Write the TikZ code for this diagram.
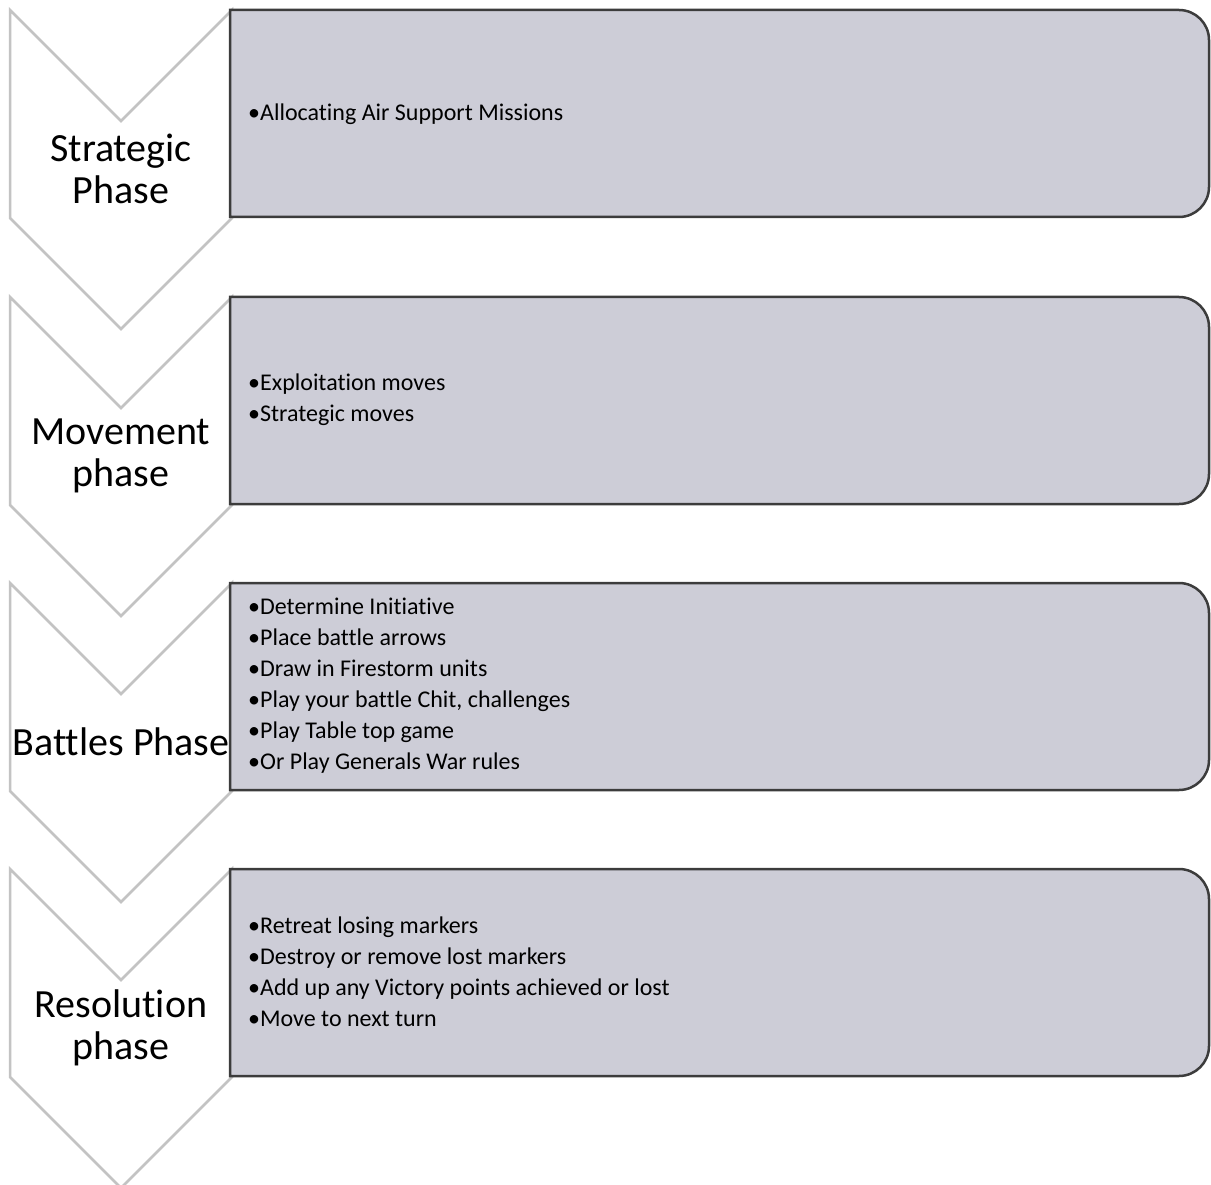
\documentclass[tikz,border=0pt]{standalone}
\usepackage{fontspec}
\setmainfont{Carlito}[Ligatures=NoCommon]
\definecolor{boxgray}{RGB}{205,205,215}
\definecolor{boxline}{RGB}{60,60,60}
\definecolor{arrowline}{RGB}{195,195,195}
\tikzset{
	phase arrow/.style={
		fill=white,
		draw=arrowline,
		line width=2.5pt,
		line join=miter
	},
	phase label/.style={
		align=center,
		inner sep=0pt,
		font=\fontsize{40}{42}\selectfont
	},
	task box/.style={
		fill=boxgray,
		draw=boxline,
		line width=2.5pt
	},
	task list/.style={
		anchor=west,
		align=left,
		inner sep=0pt,
		font=\fontsize{24}{31}\selectfont
	},
}

\begin{document}
\begin{tikzpicture}[x=1pt, y=-1pt]
\useasboundingbox (0,0) rectangle (1211,1185);

\foreach \t/\l [count=\i] in {10/{Strategic\\Phase}, 297/{Movement\\phase}, 583/{Battles Phase}, 869/{Resolution\\phase}} {
	\draw [phase arrow] (10,\t) -- (121,\t+111) -- (232,\t) -- (232,\t+208)
		-- (121,\t+319) -- (10,\t+208) -- cycle;
	\node [phase label] (phase-\i) at (121,\t+159) {\l};
}

\foreach \t in {10,297,583,869}
	\draw [task box] (230,\t) [rounded corners=30pt] -- (1209,\t) -- (1209,\t+207)
		[sharp corners] -- (230,\t+207) -- cycle;

\node [task list] (tasks-1) at (248,114) {•Allocating Air Support Missions};
\node [task list] (tasks-2) at (248,400) {•Exploitation moves\\•Strategic moves};
\node [task list] (tasks-3) at (248,686) {•Determine Initiative\\•Place battle arrows\\•Draw in Firestorm units\\•Play your battle Chit, challenges\\•Play Table top game\\•Or Play Generals War rules};
\node [task list] (tasks-4) at (248,972) {•Retreat losing markers\\•Destroy or remove lost markers\\•Add up any Victory points achieved or lost\\•Move to next turn};

\end{tikzpicture}
\end{document}
